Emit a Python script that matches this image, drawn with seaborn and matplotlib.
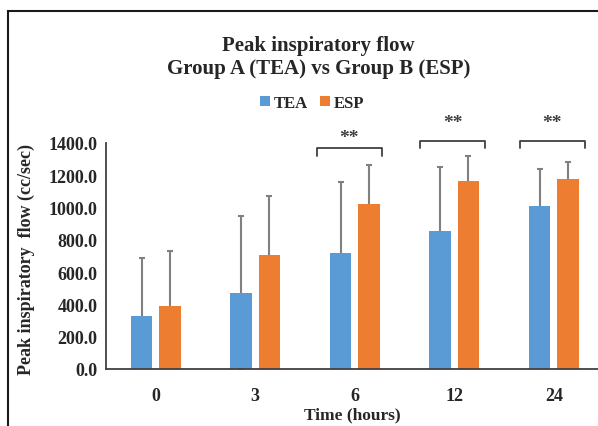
import matplotlib
matplotlib.use("Agg")
import matplotlib.pyplot as plt
from matplotlib.patches import Rectangle
import seaborn as sns
import pandas as pd
import numpy as np

# ---- data ----
times = ["0", "3", "6", "12", "24"]
tea_mean = [326, 469, 719, 857, 1008]
tea_sd = [360, 477, 441, 393, 231]
esp_mean = [392, 706, 1024, 1162, 1177]
esp_sd = [341, 364, 240, 155, 104]
groups = ["TEA", "ESP"]
signif = ["", "", "**", "**", "**"]
y_ticks = [0, 200, 400, 600, 800, 1000, 1200, 1400]

df = pd.DataFrame({
    "time": times * 2,
    "group": ["TEA"] * len(times) + ["ESP"] * len(times),
    "value": tea_mean + esp_mean,
})

sns.set_theme(style="white")
plt.rcParams["font.family"] = ["Liberation Serif", "DejaVu Serif"]
plt.rcParams["font.weight"] = "bold"

W, H = 598, 427
fig = plt.figure(figsize=(W / 100, H / 100), dpi=100)
fig.patch.set_facecolor("white")

ax_left = 106 / W
ax_right = 603.5 / W
ax_bottom = 1 - 370 / H
ax_top = 1 - 144 / H
ax = fig.add_axes([ax_left, ax_bottom, ax_right - ax_left, ax_top - ax_bottom])

palette = {"TEA": "#5B9BD5", "ESP": "#ED7D31"}
sns.barplot(data=df, x="time", y="value", hue="group", order=times, hue_order=groups,
            palette=palette, saturation=1, errorbar=None, width=0.57, gap=0.23,
            linewidth=0, ax=ax, zorder=2)

# error bars (upper half visible; lower half hidden behind the bars)
err_color = "#808080"
for cont, sds in zip(ax.containers, [tea_sd, esp_sd]):
    xs = [b.get_x() + b.get_width() / 2 for b in cont]
    ys = [b.get_height() for b in cont]
    ax.errorbar(xs, ys, yerr=sds, fmt="none", ecolor=err_color,
                elinewidth=1.5, capsize=2.5, capthick=1.5, zorder=1)

ax.set_xlim(-0.5, len(times) - 0.5)
ax.set_ylim(0, 1400)
ax.set_yticks(y_ticks)
ax.set_yticklabels([f"{v:.1f}" for v in y_ticks])
ax.tick_params(axis="both", length=0, labelsize=13, colors="#262626")
ax.tick_params(axis="x", pad=13)
ax.tick_params(axis="y", pad=6)
for lab in ax.get_xticklabels() + ax.get_yticklabels():
    lab.set_fontweight("bold")

for s in ["top", "right"]:
    ax.spines[s].set_visible(False)
for s in ["left", "bottom"]:
    ax.spines[s].set_color("#404040")
    ax.spines[s].set_linewidth(1.3)
    ax.spines[s].set_zorder(3)

ax.set_ylabel("Peak inspiratory  flow (cc/sec)", fontsize=13, fontweight="bold", color="#262626")
ax.yaxis.set_label_coords(-0.143, 0.487)
ax.set_xlabel("Time (hours)", fontsize=12.5, fontweight="bold", color="#262626")
ax.xaxis.set_label_coords(0.496, -0.165)

# significance brackets
for i, s in enumerate(signif):
    if not s:
        continue
    if i == 2:
        yb, ys_, x0, x1 = 1367, 1437, i - 0.38, i + 0.27
    else:
        yb, ys_, x0, x1 = 1415, 1530, i - 0.34, i + 0.31
    leg = 47
    ax.plot([x0, x0, x1, x1], [yb - leg, yb, yb, yb - leg], color="#404040", lw=1.3,
            clip_on=False)
    ax.text((x0 + x1) / 2, ys_, s, ha="center", va="center", fontsize=14,
            color="#404040", clip_on=False)

# legend
handles, labels = ax.get_legend_handles_labels()
ax.legend(handles, labels, loc="center", bbox_to_anchor=(312 / W, 1 - 104 / H),
          bbox_transform=fig.transFigure, ncol=2, frameon=False,
          handlelength=0.6, handleheight=0.6, handletextpad=0.25, columnspacing=0.7,
          prop={"family": "Liberation Serif", "weight": "bold", "size": 12},
          labelcolor="#262626")

# title
fig.text(0.533, 1 - 46 / H, "Peak inspiratory flow", ha="center", va="center",
         fontsize=15, fontweight="bold", color="#262626")
fig.text(0.533, 1 - 69 / H, "Group A (TEA) vs Group B (ESP)", ha="center", va="center",
         fontsize=15, fontweight="bold", color="#262626")

# chart-area frame (cropped on right and bottom)
fig.add_artist(Rectangle((8 / W, -0.2), 1.5, 1.2 - 12 / H, transform=fig.transFigure,
                         fill=False, edgecolor="#1a1a1a", lw=1.5, clip_on=False))

fig.savefig("out.png", dpi=100)
